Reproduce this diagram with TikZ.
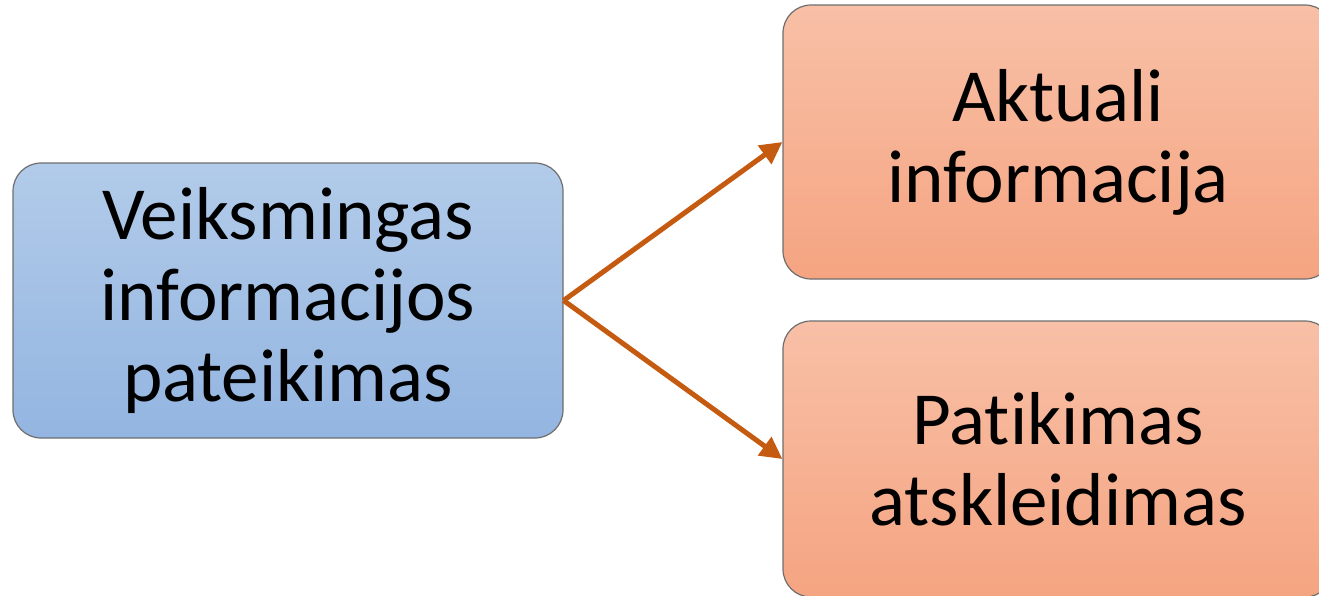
\documentclass[tikz,border=0pt]{standalone}
\usepackage{fontspec}
\setmainfont[Ligatures={NoCommon}]{Carlito}
\usetikzlibrary{arrows.meta}
\definecolor{bluetop}{HTML}{B2CBE9}
\definecolor{bluebot}{HTML}{93B5E1}
\definecolor{orgtop}{HTML}{F8C0A7}
\definecolor{orgbot}{HTML}{F5A481}
\definecolor{edge}{HTML}{6E6E6E}
\definecolor{arrowc}{HTML}{C55A11}
\tikzset{
  box/.style={draw=edge, line width=1.2pt, rounded corners=28pt, align=center,
    inner sep=0pt, font=\fontsize{75}{81}\selectfont},
  bluebox/.style={box, top color=bluetop, bottom color=bluebot},
  orgbox/.style={box, top color=orgtop, bottom color=orgbot},
  conn/.style={draw=arrowc, line width=5pt, -{Triangle[length=22pt,width=22pt]}}
}
\begin{document}
\begin{tikzpicture}[x=1pt,y=-1pt]
\useasboundingbox (0,0) rectangle (1319,595);
\node[bluebox, minimum width=550pt, minimum height=275pt] (L) at (288,300.5)
  {Veiksmingas\\informacijos\\pateikimas};
\node[orgbox, minimum width=550pt, minimum height=274pt] (T) at (1058,142)
  {Aktuali\\informacija};
\node[orgbox, minimum width=550pt, minimum height=276pt] (B) at (1058,459)
  {Patikimas\\atskleidimas};
\draw[conn] (L.east) -- (T.west);
\draw[conn] (L.east) -- (B.west);
\end{tikzpicture}
\end{document}
